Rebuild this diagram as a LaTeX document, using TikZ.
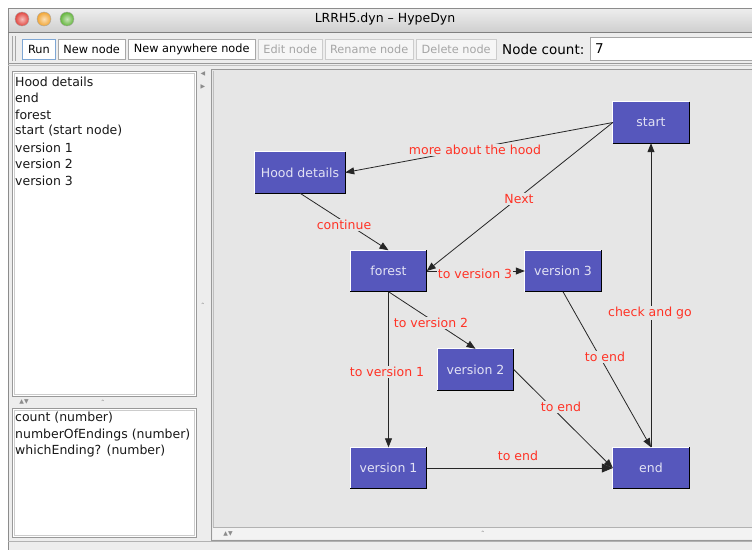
\documentclass[tikz,border=0pt]{standalone}
\usepackage{fontspec}
\setmainfont{DejaVu Sans}
\usetikzlibrary{arrows.meta}
\definecolor{nodeblue}{HTML}{5657BC}
\definecolor{nodetext}{HTML}{E2E2F4}
\definecolor{lblred}{HTML}{FF3326}
\definecolor{canvasbg}{HTML}{E6E6E6}
\definecolor{panelbg}{HTML}{EDEDED}
\definecolor{titletop}{HTML}{EEEEEE}
\definecolor{titlebot}{HTML}{CFCFCF}
\definecolor{frameline}{HTML}{A8A8A8}
\definecolor{disabledtext}{HTML}{A5A5A5}
\definecolor{runblue}{HTML}{7FA7D4}
\definecolor{tlred}{HTML}{E2463F}
\definecolor{tlorange}{HTML}{F2A533}
\definecolor{tlgreen}{HTML}{62B53A}
\newcommand{\lblfont}{\fontsize{12.5}{15}\selectfont}
\newcommand{\btnfont}{\fontsize{11.3}{13}\selectfont}
\tikzset{
  hnode/.style={fill=nodeblue, minimum width=76pt, minimum height=41pt, inner sep=0pt, text=nodetext, font=\lblfont},
  elabel/.style={fill=canvasbg, inner sep=1pt, text=lblred, font=\lblfont},
  conn/.style={draw=black!85, line width=0.8pt, -{Triangle[length=9pt,width=7pt]}},
  listtext/.style={anchor=west, inner sep=0pt, font=\lblfont, text=black!90},
  btn/.style={draw=frameline, fill=white, minimum height=20pt, inner sep=0pt, font=\btnfont},
  dbtn/.style={btn, draw=black!20, fill=panelbg!50!white, text=disabledtext},
  light/.style={circle, minimum size=14pt, inner sep=0pt, draw=black!35, line width=0.4pt}
}
\begin{document}
\begin{tikzpicture}[x=1pt,y=-1pt]
\useasboundingbox (0,0) rectangle (752,550);
\fill[white] (0,0) rectangle (752,550);
% window frame
\shade[top color=titletop, bottom color=titlebot] (8,8) rectangle (752,32);
\fill[panelbg] (8,32) rectangle (752,550);
\draw[black!45] (8,8) -- (752,8);
\draw[black!45] (8,8) -- (8,550);
\draw[black!50] (8,32) -- (752,32);
% traffic lights
\node[light, inner color=tlred!35!white, outer color=tlred] (red) at (22,19) {};
\node[light, inner color=tlorange!35!white, outer color=tlorange] (orange) at (44,19) {};
\node[light, inner color=tlgreen!35!white, outer color=tlgreen] (green) at (67,19) {};
\node[font=\fontsize{12.5}{15}\selectfont, inner sep=0pt] (title) at (385,19) {LRRH5.dyn – HypeDyn};
% toolbar
\draw[black!35] (12,36) -- (12,61);
\draw[black!35] (15,36) -- (15,61);
\node[btn, draw=runblue, line width=0.9pt, minimum width=33pt, anchor=west] (run) at (22,49) {Run};
\node[btn, minimum width=67pt, anchor=west] (newnode) at (58,49) {New node};
\node[btn, minimum width=127pt, anchor=west] (newany) at (128,49) {New anywhere node};
\node[dbtn, minimum width=64pt, anchor=west] (edit) at (258,49) {Edit node};
\node[dbtn, minimum width=88pt, anchor=west] (rename) at (325,49) {Rename node};
\node[dbtn, minimum width=80pt, anchor=west] (delete) at (416,49) {Delete node};
\node[anchor=west, inner sep=0pt, font=\fontsize{13.5}{16}\selectfont] (count) at (502,49) {Node count:};
\fill[white] (590,37) rectangle (752,60);
\draw[black!35] (752,37) -- (590,37) -- (590,60) -- (752,60);
\node[anchor=west, inner sep=0pt, font=\fontsize{13.5}{16}\selectfont] (seven) at (595,49) {7};
\draw[black!40] (8,63) -- (752,63);
\draw[black!25] (8,65) -- (752,65);
% left lists
\draw[black!40, fill=white] (12,71) rectangle (196,396);
\draw[black!20] (14,73) rectangle (194,394);
\node[listtext] (l1) at (15,82) {Hood details};
\node[listtext] (l2) at (15,98) {end};
\node[listtext] (l3) at (15,115) {forest};
\node[listtext] (l4) at (15,131) {start (start node)};
\node[listtext] (l5) at (15,148) {version 1};
\node[listtext] (l6) at (15,164) {version 2};
\node[listtext] (l7) at (15,181) {version 3};
\node[inner sep=0pt, text=black!45, font=\fontsize{6}{7}\selectfont] (split1) at (24,402) {▲▼};
\node[inner sep=0pt, text=black!45, font=\fontsize{6}{7}\selectfont] (grip1) at (103,402) {⌃};
\draw[black!40, fill=white] (12,408) rectangle (196,537);
\draw[black!20] (14,410) rectangle (194,535);
\node[listtext] (v1) at (15,418) {count (number)};
\node[listtext] (v2) at (15,435) {numberOfEndings (number)};
\node[listtext] (v3) at (15,451) {whichEnding? (number)};
% vertical splitter
\node[inner sep=0pt, text=black!45, font=\fontsize{6}{7}\selectfont] (sl) at (203,74) {◀};
\node[inner sep=0pt, text=black!45, font=\fontsize{6}{7}\selectfont] (sr) at (203,87) {▶};
\node[inner sep=0pt, text=black!45, font=\fontsize{6}{7}\selectfont] (grip2) at (203,305) {⌃};
% canvas
\fill[canvasbg] (211,69) rectangle (752,527);
\draw[black!40] (752,69) -- (211,69) -- (211,540) -- (752,540);
\draw[black!25] (213,71) -- (213,527);
\draw[black!30] (213,527) -- (752,527);
\fill[panelbg!70!white] (213,528) rectangle (752,539);
\node[inner sep=0pt, text=black!45, font=\fontsize{6}{7}\selectfont] (split2) at (228,534) {▲▼};
\node[inner sep=0pt, text=black!45, font=\fontsize{6}{7}\selectfont] (grip3) at (483,533) {⌃};
\draw[black!30] (8,541) -- (752,541);
% graph nodes
\node[hnode] (start) at (651,122.5) {start};
\node[hnode, minimum width=90pt] (hood) at (300,172.5) {Hood details};
\node[hnode] (forest) at (388.5,271) {forest};
\node[hnode] (ver3) at (563,271) {version 3};
\node[hnode] (ver2) at (475.5,369.5) {version 2};
\node[hnode] (ver1) at (388.5,468) {version 1};
\node[hnode] (endn) at (651,468) {end};
\foreach \n in {start,hood,forest,ver3,ver2,ver1,endn}{
  \draw[white, line width=0.8pt] (\n.south west) -- (\n.north west) -- (\n.north east);
  \draw[black, line width=1pt] (\n.north east) -- (\n.south east) -- (\n.south west);
}
% connectors
\draw[conn] (start.west) -- (hood.east);
\draw[conn] (start.west) -- (forest.east);
\draw[conn] (hood.south) -- (forest.north);
\draw[conn] (forest.east) -- (ver3.west);
\draw[conn] (forest.south) -- (ver2.north);
\draw[conn] (forest.south) -- (ver1.north);
\draw[conn] (ver3.south) -- (endn.north);
\draw[conn] (ver2.east) -- (endn.west);
\draw[conn, -{Triangle[length=11pt,width=9pt]}] (ver1.east) -- (endn.west);
\draw[conn] (endn.north) -- (start.south);
% labels
\node[elabel] (lhood) at (475,150) {more about the hood};
\node[elabel] (lnext) at (519,199) {Next};
\node[elabel] (lcont) at (344,225) {continue};
\node[elabel] (lv3) at (475,274) {to version 3};
\node[elabel] (lv2) at (431,323) {to version 2};
\node[elabel] (lv1) at (387,372) {to version 1};
\node[elabel] (le3) at (605,357) {to end};
\node[elabel] (le2) at (561,407) {to end};
\node[elabel] (le1) at (518,456) {to end};
\node[elabel] (lcheck) at (650,313) {check and go};
\end{tikzpicture}
\end{document}
